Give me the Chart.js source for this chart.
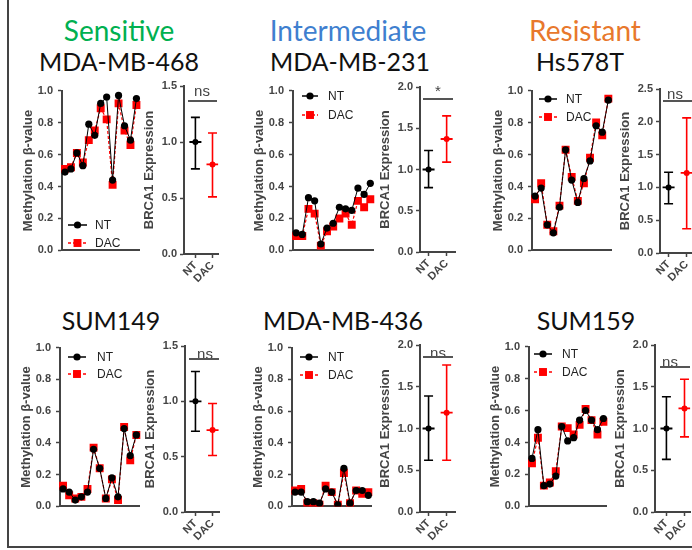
<!DOCTYPE html>
<html><head><meta charset="utf-8">
<script src="https://cdn.jsdelivr.net/npm/chart.js@4.4.1/dist/chart.umd.min.js"></script>
<style>
html,body{margin:0;padding:0;background:#fff}
body{width:692px;height:550px;overflow:hidden;position:relative}
canvas{position:absolute}
.t{position:absolute;transform:translate(-50%,-50%);white-space:nowrap;font-family:Lato,'Open Sans',sans-serif;font-size:25px;color:#111;line-height:1}
.c{font-size:28px}
.sig{position:absolute;transform:translate(-50%,-50%);font-family:'Liberation Sans',Arial,sans-serif;font-size:15px;color:#444;line-height:1}
.sl{position:absolute;height:0;border-top:2px solid #555}
#frame{position:absolute;left:7px;top:-4px;width:700px;height:550px;border-left:2px solid #444;border-bottom:2px solid #444}
</style></head>
<body>
<div id="frame"></div>
<script>
// ---------- data ----------
const siteLabels = ['1','2','3','4','5','6','7','8','9','10','11','12','13'];
const groupLabels = ['NT','DAC'];
const seriesNames = ['NT','DAC'];

const nt468  = [0.49,0.51,0.61,0.53,0.79,0.72,0.92,0.96,0.44,0.97,0.78,0.69,0.95];
const dac468 = [0.51,0.52,0.61,0.55,0.69,0.75,0.89,0.82,0.41,0.92,0.75,0.66,0.91];
const nt231  = [0.11,0.10,0.33,0.31,0.04,0.14,0.17,0.27,0.26,0.25,0.39,0.35,0.42];
const dac231 = [0.09,0.09,0.26,0.23,0.03,0.12,0.15,0.20,0.23,0.16,0.31,0.27,0.32];
const ntHs   = [0.34,0.39,0.16,0.11,0.27,0.63,0.44,0.30,0.45,0.56,0.78,0.74,0.94];
const dacHs  = [0.32,0.42,0.16,0.12,0.28,0.63,0.46,0.31,0.42,0.58,0.80,0.72,0.95];
const nt149  = [0.11,0.09,0.04,0.06,0.09,0.36,0.24,0.05,0.18,0.06,0.49,0.32,0.45];
const dac149 = [0.13,0.07,0.05,0.06,0.11,0.37,0.24,0.05,0.17,0.04,0.50,0.29,0.45];
const nt436  = [0.09,0.09,0.03,0.03,0.02,0.11,0.09,0.01,0.24,0.02,0.10,0.10,0.07];
const dac436 = [0.10,0.11,0.02,0.02,0.01,0.13,0.09,0.01,0.21,0.02,0.10,0.08,0.09];
const nt159  = [0.30,0.48,0.13,0.14,0.19,0.50,0.41,0.43,0.54,0.60,0.54,0.48,0.55];
const dac159 = [0.27,0.43,0.13,0.15,0.22,0.50,0.49,0.45,0.51,0.61,0.54,0.45,0.53];

// BRCA1 expression: mean, low, high for [NT, DAC]
const mean468 = [1.00,0.80], lo468 = [0.76,0.51], hi468 = [1.22,1.08];
const mean231 = [1.00,1.37], lo231 = [0.78,1.09], hi231 = [1.23,1.65];
const meanHs  = [1.00,1.22], loHs  = [0.75,0.37], hiHs  = [1.23,2.06];
const mean149 = [1.00,0.74], lo149 = [0.73,0.51], hi149 = [1.27,0.98];
const mean436 = [1.00,1.19], lo436 = [0.62,0.62], hi436 = [1.39,1.76];
const mean159 = [1.00,1.24], lo159 = [0.63,0.90], hi159 = [1.38,1.59];

const exprMax = [1.5,2.0,2.5,1.5,2.0,2.0];

// ---------- styling ----------
const AX = '#444';
const TICKFONT = {family:"'Liberation Sans', Arial, sans-serif", size:11, weight:'bold'};
const TITLEFONT = {family:"'Liberation Sans', Arial, sans-serif", size:13, weight:'bold'};
const COL = ['#000000','#ff0000'];

function addText(cls, txt, x, y, color){
  const d=document.createElement('div'); d.className=cls; d.textContent=txt;
  d.style.left=x+'px'; d.style.top=y+'px'; if(color) d.style.color=color;
  document.body.appendChild(d);
}
function addLine(x0,x1,y){
  const d=document.createElement('div'); d.className='sl';
  d.style.left=x0+'px'; d.style.top=(y-1)+'px'; d.style.width=(x1-x0)+'px';
  document.body.appendChild(d);
}
function mkCanvas(l,t,w,h){
  const c=document.createElement('canvas'); c.width=w; c.height=h;
  c.style.left=l+'px'; c.style.top=t+'px'; c.style.width=w+'px'; c.style.height=h+'px';
  document.body.appendChild(c); return c;
}

const inLegend = {
  id:'inLegend',
  afterDatasetsDraw(chart, args, o){
    if(!o || !o.items) return;
    const ctx=chart.ctx; ctx.save();
    chart.data.datasets.forEach((ds,i)=>{
      const it=o.items[i]; const y=it.y-o.oy, x0=it.x0-o.ox, x1=it.x1-o.ox, tx=it.tx-o.ox;
      ctx.strokeStyle=ds.borderColor; ctx.lineWidth=1.5; ctx.setLineDash(ds.borderDash||[]);
      ctx.beginPath(); ctx.moveTo(x0,y); ctx.lineTo(x1,y); ctx.stroke(); ctx.setLineDash([]);
      const cx=(x0+x1)/2; ctx.fillStyle=ds.backgroundColor;
      if(ds.pointStyle==='rect'){ const s=ds.pointRadius*Math.SQRT1_2; ctx.fillRect(cx-s,y-s,2*s,2*s); }
      else { ctx.beginPath(); ctx.arc(cx,y,ds.pointRadius,0,Math.PI*2); ctx.fill(); }
      ctx.fillStyle='#222'; ctx.font="12px 'Liberation Sans', Arial, sans-serif"; ctx.textBaseline='middle'; ctx.textAlign='left';
      ctx.fillText(seriesNames[i], tx, y+0.5);
    });
    ctx.restore();
  }
};

function lineChart(g, nt, dac, leg){
  const left=g.ax-41, top=g.top-10, w=g.right-left+4, h=g.bottom-top+6;
  const c=mkCanvas(left,top,w,h);
  new Chart(c,{
    type:'line',
    data:{labels:siteLabels, datasets:[
      {label:seriesNames[0], data:nt, borderColor:COL[0], backgroundColor:COL[0], borderWidth:1, pointStyle:'circle', pointRadius:3.6, pointBorderWidth:0, pointBackgroundColor:COL[0]},
      {label:seriesNames[1], data:dac, borderColor:COL[1], backgroundColor:COL[1], borderWidth:1.2, borderDash:[3,2], pointStyle:'rect', pointRadius:5.6, pointBorderWidth:0, pointBackgroundColor:COL[1]}
    ]},
    options:{
      responsive:false, animation:false, devicePixelRatio:1,
      layout:{padding:{top:10,right:4,left:0,bottom:0}},
      plugins:{legend:{display:false}, tooltip:{enabled:false},
        inLegend:{items:leg, ox:left, oy:top}},
      scales:{
        x:{type:'category', offset:true, ticks:{display:false}, grid:{display:false, drawTicks:false},
           border:{display:true, color:AX, width:2},
           afterFit:s=>{s.height=6; s.paddingLeft=0; s.paddingRight=0;}},
        y:{min:0, max:1, ticks:{stepSize:0.2, callback:v=>v.toFixed(1), font:TICKFONT, color:AX, padding:5},
           grid:{drawOnChartArea:false, drawTicks:true, tickLength:4, tickColor:AX, tickWidth:1.5},
           border:{color:AX, width:2},
           title:{display:true, text:'Methylation β-value', font:TITLEFONT, color:AX, padding:0},
           afterFit:s=>{s.width=41;}}
      }
    },
    plugins:[inLegend]
  });
}

function exprChart(g, mean, lo, hi, ymax){
  const left=g.ax-42, top=g.top-10, w=g.right-left+6, h=g.bottom-top+10+45;
  const c=mkCanvas(left,top,w,h);
  const sp=g.x1-g.x0;
  const ds=[];
  [0,1].forEach(i=>{
    ds.push({data:[{x:i,y:lo[i]},{x:i,y:hi[i]}], showLine:true, borderColor:COL[i], borderWidth:1.6, pointRadius:0});
  });
  const pts=(arr)=>arr.map((v,i)=>({x:i,y:v}));
  ds.push({data:pts(hi), pointStyle:'line', pointRadius:4.5, pointBorderWidth:1.6, pointBorderColor:COL, pointBackgroundColor:COL});
  ds.push({data:pts(lo), pointStyle:'line', pointRadius:4.5, pointBorderWidth:1.6, pointBorderColor:COL, pointBackgroundColor:COL});
  ds.push({data:pts(mean), pointStyle:'line', pointRadius:6, pointBorderWidth:1.8, pointBorderColor:COL, pointBackgroundColor:COL});
  ds.push({data:pts(mean), pointStyle:'circle', pointRadius:3, pointBorderWidth:0, pointBackgroundColor:COL});
  new Chart(c,{
    type:'scatter',
    data:{datasets:ds},
    options:{
      responsive:false, animation:false, devicePixelRatio:1,
      layout:{padding:{top:10,right:6,left:0,bottom:0}},
      plugins:{legend:{display:false}, tooltip:{enabled:false}},
      scales:{
        x:{type:'linear', min:-(g.x0-g.ax)/sp, max:1+(g.right-g.x1)/sp,
           afterBuildTicks:s=>{s.ticks=[{value:0},{value:1}];},
           ticks:{callback:v=>groupLabels[v], autoSkip:false, minRotation:45, maxRotation:45, font:TICKFONT, color:AX, padding:1},
           grid:{drawOnChartArea:false, drawTicks:true, tickLength:4, tickColor:AX, tickWidth:1.5},
           border:{color:AX, width:2},
           afterFit:s=>{s.height=45; s.paddingLeft=0; s.paddingRight=0;}},
        y:{min:0, max:ymax, ticks:{stepSize:0.5, callback:v=>v.toFixed(1), font:TICKFONT, color:AX, padding:3},
           grid:{drawOnChartArea:false, drawTicks:true, tickLength:4, tickColor:AX, tickWidth:1.5},
           border:{color:AX, width:2},
           title:{display:true, text:'BRCA1 Expression', font:TITLEFONT, color:AX, padding:0},
           afterFit:s=>{s.width=42;}}
      }
    }
  });
}

// ---------- titles ----------
addText('t c','Sensitive',119,30,'#00b050');
addText('t','MDA-MB-468',119,61);
addText('t c','Intermediate',348,30,'#3f7fcf');
addText('t','MDA-MB-231',350,61);
addText('t c','Resistant',585,30,'#e8782c');
addText('t','Hs578T',580,61);
addText('t','SUM149',111,320);
addText('t','MDA-MB-436',343,320);
addText('t','SUM159',586,320);

// ---------- line charts ----------
lineChart({ax:62,right:141,top:89,bottom:256}, nt468, dac468,
  [{y:225,x0:68,x1:87,tx:95},{y:243,x0:68,x1:87,tx:95}]);
lineChart({ax:293,right:375,top:89,bottom:256}, nt231, dac231,
  [{y:96,x0:302,x1:318,tx:328},{y:115,x0:302,x1:318,tx:328}]);
lineChart({ax:532,right:613,top:89,bottom:256}, ntHs, dacHs,
  [{y:99,x0:539,x1:557,tx:566},{y:117,x0:539,x1:557,tx:566}]);
lineChart({ax:60,right:141,top:346,bottom:512}, nt149, dac149,
  [{y:357,x0:68,x1:86,tx:97},{y:374,x0:68,x1:86,tx:97}]);
lineChart({ax:292,right:373,top:346,bottom:512}, nt436, dac436,
  [{y:357,x0:300,x1:318,tx:328},{y:375,x0:300,x1:318,tx:328}]);
lineChart({ax:529,right:608,top:345,bottom:512}, nt159, dac159,
  [{y:354,x0:534,x1:552,tx:562},{y:372,x0:534,x1:552,tx:562}]);

// ---------- expression charts ----------
exprChart({ax:184,x0:196,x1:214,right:220,top:86,bottom:244}, mean468, lo468, hi468, exprMax[0]);
exprChart({ax:420,x0:429,x1:448,right:457,top:87,bottom:242}, mean231, lo231, hi231, exprMax[1]);
exprChart({ax:660,x0:669,x1:688,right:698,top:89,bottom:243}, meanHs, loHs, hiHs, exprMax[2]);
exprChart({ax:185,x0:196,x1:214,right:221,top:346,bottom:502}, mean149, lo149, hi149, exprMax[3]);
exprChart({ax:420,x0:429,x1:448,right:457,top:345,bottom:502}, mean436, lo436, hi436, exprMax[4]);
exprChart({ax:655,x0:667,x1:686,right:692,top:345,bottom:502}, mean159, lo159, hi159, exprMax[5]);

// ---------- significance ----------
addText('sig','ns',202,90); addLine(188,217,101);
addText('sig','*',438,90); addLine(423,453,99);
addText('sig','ns',675,93); addLine(663,692,101);
addText('sig','ns',205,353); addLine(189,219,359);
addText('sig','ns',438,352); addLine(423,453,357);
addText('sig','ns',670,361); addLine(660,690,367);
</script>
</body></html>
